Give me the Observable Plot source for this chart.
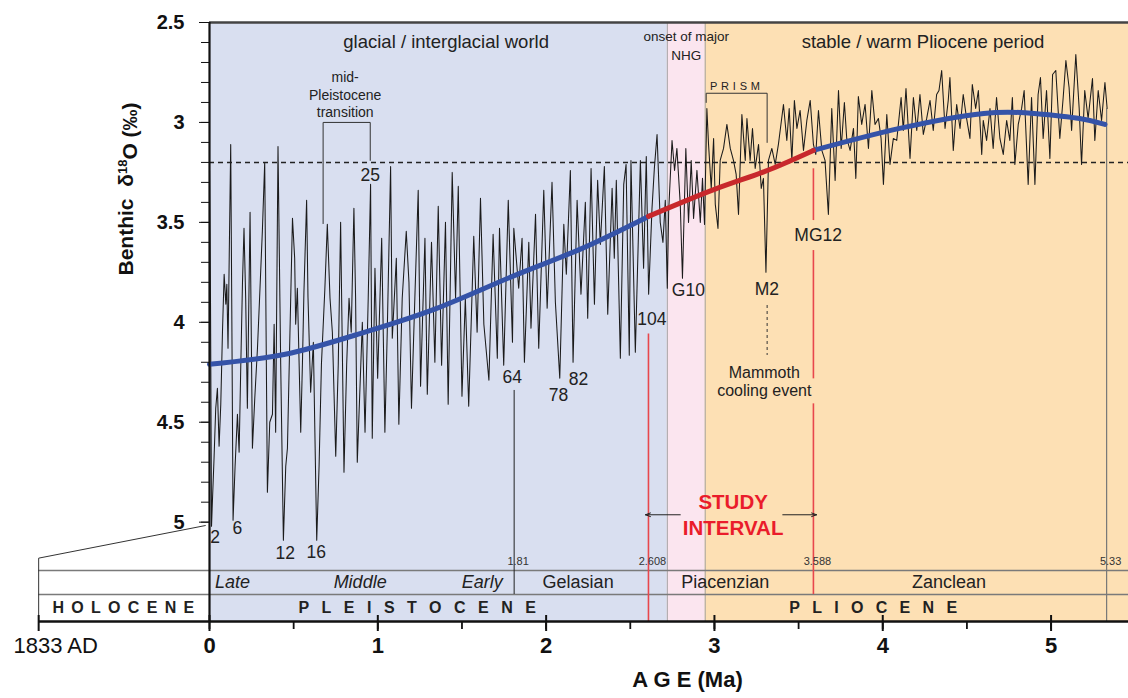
<!DOCTYPE html>
<html><head><meta charset="utf-8">
<script src="https://cdn.jsdelivr.net/npm/d3@7"></script>
<script src="https://cdn.jsdelivr.net/npm/@observablehq/plot@0.6"></script>
<style>
html,body{margin:0;padding:0;background:#fff;}
#chart{width:1128px;height:698px;overflow:hidden;}
</style></head><body><div id="chart"></div>
<script>
// ---------- data ----------
const ages = [0.000,0.006,0.012,0.018,0.027,0.037,0.047,0.057,0.067,0.077,0.087,0.097,0.103,0.110,0.126,0.132,0.140,0.152,0.166,0.176,0.186,0.196,0.205,0.215,0.225,0.241,0.255,0.269,0.285,0.300,0.314,0.328,0.344,0.358,0.374,0.384,0.393,0.407,0.423,0.439,0.453,0.463,0.478,0.493,0.506,0.512,0.522,0.542,0.552,0.561,0.577,0.585,0.601,0.617,0.637,0.651,0.665,0.685,0.700,0.716,0.730,0.750,0.765,0.779,0.799,0.815,0.829,0.842,0.858,0.868,0.878,0.908,0.924,0.943,0.957,0.967,0.983,0.999,1.023,1.042,1.056,1.076,1.086,1.110,1.125,1.145,1.169,1.185,1.200,1.220,1.240,1.254,1.280,1.294,1.319,1.339,1.359,1.379,1.402,1.418,1.442,1.462,1.478,1.500,1.520,1.540,1.570,1.590,1.610,1.630,1.660,1.685,1.710,1.723,1.748,1.775,1.800,1.808,1.837,1.857,1.871,1.897,1.910,1.937,1.956,1.986,2.006,2.035,2.055,2.081,2.105,2.120,2.144,2.160,2.184,2.207,2.233,2.247,2.267,2.287,2.306,2.322,2.346,2.366,2.392,2.405,2.417,2.441,2.461,2.475,2.494,2.504,2.530,2.560,2.579,2.595,2.609,2.629,2.643,2.659,2.678,2.694,2.708,2.720,2.728,2.748,2.763,2.777,2.797,2.810,2.830,2.846,2.862,2.876,2.896,2.916,2.929,2.941,2.955,2.965,2.981,2.995,3.005,3.021,3.034,3.054,3.074,3.094,3.113,3.129,3.143,3.163,3.183,3.193,3.212,3.226,3.242,3.262,3.278,3.291,3.306,3.321,3.341,3.361,3.380,3.410,3.430,3.444,3.460,3.475,3.490,3.509,3.529,3.549,3.569,3.588,3.602,3.618,3.638,3.657,3.677,3.697,3.717,3.737,3.753,3.772,3.786,3.806,3.826,3.840,3.855,3.875,3.895,3.915,3.935,3.954,3.974,3.990,4.004,4.024,4.043,4.063,4.083,4.109,4.122,4.138,4.162,4.182,4.202,4.221,4.241,4.261,4.281,4.300,4.320,4.334,4.350,4.370,4.389,4.399,4.419,4.439,4.459,4.478,4.498,4.518,4.532,4.552,4.568,4.588,4.597,4.617,4.637,4.656,4.676,4.696,4.716,4.736,4.755,4.770,4.785,4.805,4.825,4.840,4.864,4.884,4.904,4.923,4.937,4.953,4.973,4.993,5.009,5.028,5.052,5.072,5.088,5.107,5.122,5.147,5.167,5.181,5.200,5.220,5.246,5.260,5.280,5.300,5.320,5.333];
const d18O = [3.24,3.90,5.02,4.88,4.68,4.43,4.33,4.62,4.41,4.05,3.76,3.91,3.81,4.13,3.11,3.88,4.99,4.72,4.46,4.65,4.21,3.80,3.53,3.88,4.43,3.45,4.63,4.38,4.13,3.83,3.545,3.20,4.85,4.50,4.46,4.01,4.55,3.12,4.21,5.09,4.72,4.63,4.05,3.48,3.68,4.01,3.83,4.55,4.21,3.85,3.39,3.87,4.35,4.10,5.09,4.72,4.21,3.84,3.51,3.88,4.05,4.67,4.21,3.50,4.75,4.21,3.88,4.05,3.43,3.88,4.70,4.00,4.55,3.88,3.31,4.58,3.73,4.28,3.58,4.55,4.05,3.22,4.08,3.68,4.51,3.88,3.545,3.80,4.43,3.88,3.34,4.32,3.58,4.36,3.60,4.20,3.42,4.215,3.50,4.41,3.25,3.88,3.32,4.37,3.88,4.42,3.57,4.05,3.38,4.01,4.29,3.56,4.18,3.53,4.215,3.39,4.10,3.53,3.83,3.58,4.20,3.60,4.03,3.46,4.13,3.34,3.93,3.30,3.90,4.28,3.51,3.76,3.24,4.20,3.39,3.86,3.40,3.98,3.23,3.91,3.29,3.61,3.22,3.96,3.33,3.68,3.29,4.18,3.31,3.21,4.165,3.19,4.15,3.19,3.73,3.17,3.86,3.43,3.23,3.06,3.50,3.60,3.39,3.83,3.445,3.09,3.24,3.13,3.41,3.78,3.13,3.50,3.19,3.48,3.24,3.50,3.28,3.51,2.93,3.11,3.33,3.08,3.41,3.53,3.19,3.13,3.01,3.13,3.19,3.26,3.46,2.96,3.19,2.98,3.19,3.03,3.23,3.11,3.33,3.28,3.75,3.19,3.13,3.21,3.11,2.91,3.09,2.93,3.19,2.89,3.03,2.94,3.14,2.99,2.89,3.11,3.16,2.94,3.14,3.19,3.46,2.93,3.29,2.84,3.13,2.90,3.08,3.14,3.03,3.28,2.87,3.01,2.91,3.13,2.84,3.01,2.98,3.08,3.31,2.96,3.21,3.08,3.09,2.875,3.04,2.83,3.18,2.875,3.04,2.86,3.06,2.98,2.89,3.04,2.86,2.84,2.74,3.03,2.89,2.775,3.14,2.91,3.03,2.86,2.98,3.08,2.81,2.93,2.84,3.16,2.99,3.09,2.93,3.13,2.875,3.08,3.16,2.99,3.09,2.875,3.21,3.01,2.93,2.84,3.31,2.875,3.31,2.86,2.775,3.08,2.84,3.18,2.76,2.74,3.08,2.875,2.69,2.825,3.04,2.66,2.93,3.21,2.84,2.98,2.78,3.09,2.84,2.99,2.80,2.93];

// smoothed long-term trend (blue / red curve)
const fitAges   = [0, 0.45, 0.9, 1.35, 1.8, 2.2, 2.608, 3.0, 3.3, 3.588, 4.1, 4.6, 4.9, 5.17, 5.32];
const fitValues = [4.21, 4.16, 4.055, 3.93, 3.77, 3.635, 3.47, 3.335, 3.245, 3.14, 3.03, 2.955, 2.955, 2.98, 3.01];
const studyStart = 2.608, studyEnd = 3.588;

// climate-state background bands (Ma)
const bandNames = ["glacial", "nhg", "pliocene"];
const bandStart = [0, 2.72, 2.945];
const bandEnd   = [2.72, 2.945, 5.46];

// marine isotope stage labels
const stageNames  = ["2", "6", "12", "16", "25", "64", "78", "82", "104", "G10", "M2", "MG12"];
const stageAges   = [0.034, 0.166, 0.45, 0.634, 0.955, 1.798, 2.073, 2.192, 2.628, 2.845, 3.311, 3.616];
const stageValues = [5.075, 5.033, 5.155, 5.152, 3.266, 4.275, 4.366, 4.288, 3.983, 3.841, 3.837, 3.566];

// geological time scale
const boundaryAges   = [1.81, 2.608, 3.588, 5.33];
const boundaryLabels = ["1.81", "2.608", "3.588", "5.33"];
const stageRowNames  = ["Late", "Middle", "Early", "Gelasian", "Piacenzian", "Zanclean"];
const stageRowAges   = [0.136, 0.895, 1.62, 2.19, 3.064, 4.394];
const epochNames     = ["HOLOCENE", "PLEISTOCENE", "PLIOCENE"];
const epochAges      = [-0.512, 1.234, 3.943];

// axes
const yMinorTicks = d3.range(25, 51).map(d => d / 10);
const yMajorTicks = [2.5, 3, 3.5, 4, 4.5, 5];
const xMinorTicks = d3.range(0, 11).map(d => d / 2);
const xMajorTicks = [0, 1, 2, 3, 4, 5];
const holoceneAge = -1.015;   // 1833 AD on the broken axis
const threshold = 3.2;        // dashed reference level

// ---------- derived tables ----------
const series = ages.map((a, i) => ({age: a, v: d18O[i]}));
const fit = fitAges.map((a, i) => ({age: a, v: fitValues[i]}));
const fitPre = fit.filter(d => d.age <= studyStart);
const fitStudy = fit.filter(d => d.age >= studyStart && d.age <= studyEnd);
const fitPost = fit.filter(d => d.age >= studyEnd);
const bandColor = {glacial: "#d9dff0", nhg: "#fbe5ef", pliocene: "#fde0b4"};
const bands = bandNames.map((n, i) => ({name: n, x1: bandStart[i], x2: bandEnd[i]}));
const stages = stageNames.map((n, i) => ({name: n, age: stageAges[i], v: stageValues[i]}));

const yBottom = 5.497, rowLine1 = 5.242, rowLine2 = 5.362;
const yBoundaryText = 5.197, yStageRow = 5.300, yEpochRow = 5.428;

const textColor = "#222";
const red = "#e8474c";

const chart = Plot.plot({
  width: 1128, height: 698,
  marginTop: 22, marginBottom: 77, marginLeft: 209, marginRight: 0,
  x: {domain: [0, 5.46], label: null},
  y: {domain: [2.5, yBottom], reverse: true, label: null},
  color: {type: "identity"},
  style: {fontFamily: "'Liberation Sans', Arial, Helvetica, sans-serif", background: "white", overflow: "visible"},
  marks: [
    Plot.rect(bands, {x1: "x1", x2: "x2", y1: 2.5, y2: yBottom, fill: d => bandColor[d.name]}),
    Plot.ruleX([bandStart[1], bandStart[2]], {y1: 2.5, y2: yBottom, stroke: "#9a9a9a", strokeWidth: 0.9}),
    Plot.ruleY([rowLine1, rowLine2], {x1: holoceneAge, x2: 5.46, stroke: "#7a7a7a", strokeWidth: 1.4}),
    Plot.line([{a: holoceneAge, v: yBottom}, {a: holoceneAge, v: 5.18}, {a: -0.025, v: 5.017}], {x: "a", y: "v", stroke: "#333", strokeWidth: 1}),
    Plot.ruleY([threshold], {x1: 0, x2: 5.46, stroke: "#222", strokeWidth: 1.5, strokeDasharray: "5,4"}),
    // boundary verticals
    Plot.ruleX([1.81], {y1: 4.341, y2: rowLine2, stroke: "#222", strokeWidth: 1}),
    Plot.ruleX([studyStart], {y1: 4.058, y2: yBottom, stroke: red, strokeWidth: 1.6}),
    Plot.ruleX([studyEnd, studyEnd, studyEnd], {y1: [3.232, 3.641, 4.408], y2: [3.491, 4.283, rowLine2], stroke: red, strokeWidth: 1.6}),
    Plot.ruleX([5.33], {y1: 2.932, y2: yBottom, stroke: "#777", strokeWidth: 1.2}),
    // benthic record
    Plot.line(series, {x: "age", y: "v", stroke: "#1b1b1b", strokeWidth: 1.05}),
    // long-term trend
    Plot.line(fitPre, {x: "age", y: "v", stroke: "#3553a8", strokeWidth: 5, curve: "natural"}),
    Plot.line(fitPost, {x: "age", y: "v", stroke: "#3553a8", strokeWidth: 5, curve: "natural"}),
    Plot.line(fitStudy, {x: "age", y: "v", stroke: "#c8282c", strokeWidth: 5, curve: "natural"}),
    // frame lines
    Plot.ruleY([2.5], {x1: 0, x2: 5.46, stroke: "#444", strokeWidth: 2.5}),
    Plot.ruleX([0], {y1: 2.5, y2: yBottom, stroke: "#111", strokeWidth: 2.2}),
    Plot.ruleY([yBottom], {x1: holoceneAge, x2: 5.46, stroke: "#111", strokeWidth: 2.5}),
    // brackets
    Plot.line([{a: 0.675, v: 3.506}, {a: 0.675, v: 3.0}, {a: 0.955, v: 3.0}, {a: 0.955, v: 3.19}], {x: "a", y: "v", stroke: "#333", strokeWidth: 1}),
    Plot.line([{a: 2.951, v: 2.90}, {a: 2.951, v: 2.854}, {a: 3.313, v: 2.854}, {a: 3.313, v: 3.10}], {x: "a", y: "v", stroke: "#333", strokeWidth: 1}),
    Plot.ruleX([3.313], {y1: 3.916, y2: 4.166, stroke: "#333", strokeWidth: 1, strokeDasharray: "3,3"}),
    // study interval arrows
    Plot.arrow([{x1: 2.797, x2: 2.59}, {x1: 3.406, x2: 3.607}], {x1: "x1", x2: "x2", y1: 4.963, y2: 4.963, stroke: "#222", strokeWidth: 1, headLength: 8, headAngle: 40}),
    // annotations
    Plot.text(stages, {x: "age", y: "v", text: "name", fontSize: 17.5, fill: textColor}),
    Plot.text(["glacial / interglacial world", "stable / warm Pliocene period"], {x: [1.406, 4.239], y: [2.6, 2.6], text: d => d, fontSize: 18.5, fill: textColor}),
    Plot.text(["onset of major", "NHG"], {x: [2.832, 2.832], y: [2.57, 2.665], text: d => d, fontSize: 13.5, fill: textColor}),
    Plot.text(["mid-", "Pleistocene", "transition"], {x: [0.806, 0.806, 0.806], y: [2.775, 2.865, 2.95], text: d => d, fontSize: 14, fill: textColor}),
    Plot.text(["PRISM"], {x: [3.122], y: [2.82], text: d => d, fontSize: 11, fill: textColor}),
    Plot.text(["Mammoth", "cooling event"], {x: [3.296, 3.296], y: [4.251, 4.341], text: d => d, fontSize: 16, fill: textColor}),
    Plot.text(["STUDY", "INTERVAL"], {x: [3.111, 3.111], y: [4.902, 5.032], text: d => d, fontSize: 20.5, fontWeight: "bold", fill: "#ea1c2b"}),
    // time scale
    Plot.text(boundaryLabels, {x: boundaryAges, y: yBoundaryText, text: d => d, fontSize: 11, fill: "#333", dx: 4}),
    Plot.text(stageRowNames.slice(0, 3), {x: stageRowAges.slice(0, 3), y: yStageRow, text: d => d, fontSize: 18, fontStyle: "italic", fill: textColor}),
    Plot.text(stageRowNames.slice(3), {x: stageRowAges.slice(3), y: yStageRow, text: d => d, fontSize: 18, fill: textColor}),
    Plot.text(epochNames, {x: epochAges, y: yEpochRow, text: d => d, fontSize: 16, fontWeight: "bold", fill: textColor}),
    // axes
    Plot.axisY(yMinorTicks, {tickSize: 8, tickFormat: () => "", stroke: "#111", label: null}),
    Plot.axisY(yMajorTicks, {tickSize: 10, tickPadding: 15, tickFormat: d => String(d), fontSize: 20, fontWeight: "bold", fill: "#111", stroke: "#111", label: null}),
    Plot.axisX(xMinorTicks, {tickSize: 8, tickFormat: () => "", stroke: "#111", strokeWidth: 1.8, label: null}),
    Plot.axisX([...xMajorTicks, holoceneAge], {tickSize: 16, dy: -6, tickFormat: () => "", stroke: "#111", strokeWidth: 2, label: null}),
    Plot.text(xMajorTicks, {x: d => d, frameAnchor: "bottom", dy: 31, text: d => String(d), fontSize: 22, fontWeight: "bold", fill: "#111"}),
    Plot.text(["1833 AD"], {x: [holoceneAge], frameAnchor: "bottom", dy: 31, dx: 17, text: d => d, fontSize: 22, fill: "#111"}),
    Plot.text(["A G E (Ma)"], {x: [2.84], frameAnchor: "bottom", dy: 65, text: d => d, fontSize: 22, fontWeight: "bold", fill: "#111"}),
    Plot.text(["Benthic  δ18O (‰)"], {y: [3.766], frameAnchor: "left", dx: -83, rotate: -90, text: d => d, fontSize: 21, fontWeight: "bold", fill: "#111"})
  ]
});
document.getElementById("chart").appendChild(chart);

// ---------- typographic touch-ups ----------
const svg = d3.select(chart.tagName === "svg" ? chart : chart.querySelector("svg"));
const spacing = {"HOLOCENE": 7.3, "PLEISTOCENE": 12.5, "PLIOCENE": 12.3, "PRISM": 3.8};
svg.selectAll("text").each(function () {
  const t = this.textContent;
  if (spacing[t] !== undefined) {
    d3.select(this).style("letter-spacing", spacing[t] + "px").attr("dx", (spacing[t] / 2) + "px");
  }
  if (t === "Benthic  δ18O (‰)") {
    const el = d3.select(this);
    el.text("");
    el.append("tspan").text("Benthic  δ");
    el.append("tspan").attr("dy", "-0.45em").attr("font-size", "0.62em").text("18");
    el.append("tspan").attr("dy", "0.45em").text("O (‰)");
  }
});
</script>
</body></html>
